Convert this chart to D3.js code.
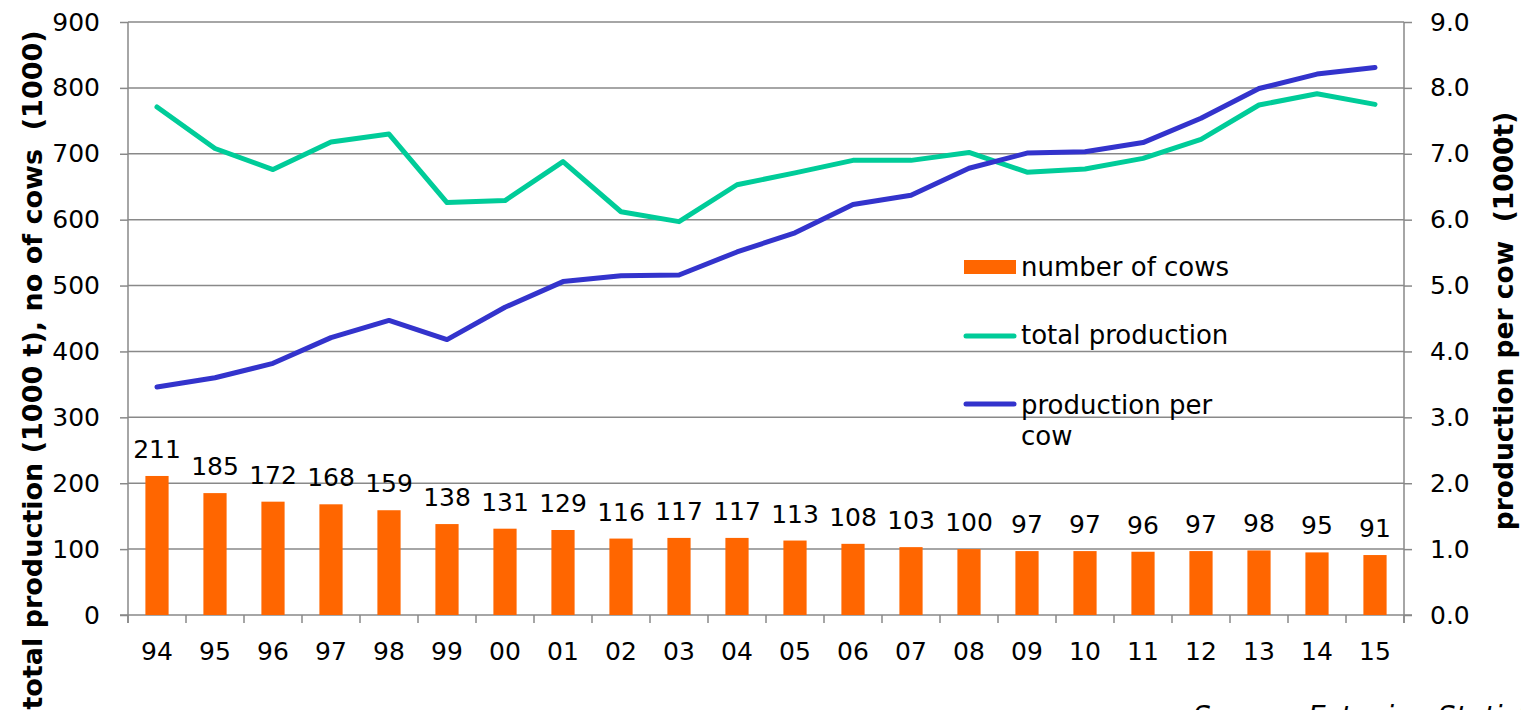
<!DOCTYPE html>
<html lang="en">
<head>
<meta charset="utf-8">
<title>Cows and milk production</title>
<style>
  body { margin: 0; background: #fff; }
  svg text { font-family: "DejaVu Sans", Verdana, sans-serif; fill: #000; }
  .axis path { display: none; }
  .axis line { stroke: #898989; stroke-width: 1.5; }
  .axis text { font-size: 25px; }
  .grid line { stroke: #898989; stroke-width: 1.5; }
</style>
<script src="https://cdn.jsdelivr.net/npm/d3@7"></script>
</head>
<body>
<div id="chart"></div>
<script>
// data
var years = ["94","95","96","97","98","99","00","01","02","03","04","05","06","07","08","09","10","11","12","13","14","15"];
var cows = [211,185,172,168,159,138,131,129,116,117,117,113,108,103,100,97,97,96,97,98,95,91];
var totalProduction = [771,708,676,718,730,626,629,688,612,597,653,671,690,690,702,672,677,693,722,774,791,775];
var perCow = [3.46,3.60,3.82,4.21,4.47,4.18,4.67,5.06,5.15,5.16,5.51,5.80,6.23,6.37,6.78,7.01,7.03,7.17,7.54,7.99,8.21,8.31];
var leftTicks = [0,100,200,300,400,500,600,700,800,900];
var rightTicks = [0,1,2,3,4,5,6,7,8,9];

var w = 1521, h = 710;
var pLeft = 128, pRight = 1404, pTop = 22, pBottom = 615;

var svg = d3.select('#chart').append('svg')
  .attr('width', w).attr('height', h);

var x = d3.scaleBand().domain(years).range([pLeft, pRight]).padding(0);
var yL = d3.scaleLinear().domain([0, 900]).range([pBottom, pTop]);
var yR = d3.scaleLinear().domain([0, 9]).range([pBottom, pTop]);
var cx = function(d) { return x(d) + x.bandwidth() / 2; };

// gridlines
svg.append('g').attr('class', 'grid')
  .selectAll('line').data(leftTicks.slice(1)).enter().append('line')
  .attr('x1', pLeft).attr('x2', pRight)
  .attr('y1', function(d) { return yL(d); }).attr('y2', function(d) { return yL(d); });

// left axis
svg.append('g').attr('class', 'axis')
  .attr('transform', 'translate(' + pLeft + ',0)')
  .call(d3.axisLeft(yL).tickValues(leftTicks).tickSize(8).tickPadding(20));
svg.append('line').attr('x1', pLeft).attr('x2', pLeft).attr('y1', pTop).attr('y2', pBottom + 8)
  .attr('stroke', '#898989').attr('stroke-width', 1.5);

// right axis
svg.append('g').attr('class', 'axis')
  .attr('transform', 'translate(' + pRight + ',0)')
  .call(d3.axisRight(yR).tickValues(rightTicks).tickSize(8).tickPadding(18).tickFormat(d3.format('.1f')));
svg.append('line').attr('x1', pRight).attr('x2', pRight).attr('y1', pTop).attr('y2', pBottom + 8)
  .attr('stroke', '#898989').attr('stroke-width', 1.5);

// bottom axis: labels at centres, ticks at band edges
svg.append('g').attr('class', 'axis')
  .attr('transform', 'translate(0,' + pBottom + ')')
  .call(d3.axisBottom(x).tickSize(0).tickPadding(27));
var edges = years.map(function(d) { return x(d); }).concat([pRight]);
svg.append('g').selectAll('line').data(edges).enter().append('line')
  .attr('x1', function(d) { return d; }).attr('x2', function(d) { return d; })
  .attr('y1', pBottom).attr('y2', pBottom + 8)
  .attr('stroke', '#898989').attr('stroke-width', 1.5);
svg.append('line').attr('x1', pLeft - 8).attr('x2', pRight + 8).attr('y1', pBottom).attr('y2', pBottom)
  .attr('stroke', '#898989').attr('stroke-width', 1.5);

// bars
var barW = x.bandwidth() * 0.4;
svg.append('g').selectAll('rect').data(cows).enter().append('rect')
  .attr('x', function(d, i) { return cx(years[i]) - barW / 2; })
  .attr('y', function(d) { return yL(d); })
  .attr('width', barW)
  .attr('height', function(d) { return pBottom - yL(d); })
  .attr('fill', '#ff6600');

svg.append('g').selectAll('text').data(cows).enter().append('text')
  .attr('x', function(d, i) { return cx(years[i]); })
  .attr('y', function(d) { return yL(d) - 18; })
  .attr('text-anchor', 'middle')
  .style('font-size', '25px')
  .text(function(d) { return d; });

// lines
var lineL = d3.line().x(function(d, i) { return cx(years[i]); }).y(function(d) { return yL(d); });
var lineR = d3.line().x(function(d, i) { return cx(years[i]); }).y(function(d) { return yR(d); });

svg.append('path').datum(totalProduction).attr('d', lineL)
  .attr('fill', 'none').attr('stroke', '#00cc99').attr('stroke-width', 5)
  .attr('stroke-linejoin', 'round').attr('stroke-linecap', 'round');
svg.append('path').datum(perCow).attr('d', lineR)
  .attr('fill', 'none').attr('stroke', '#3333cc').attr('stroke-width', 5)
  .attr('stroke-linejoin', 'round').attr('stroke-linecap', 'round');

// legend
var lg = svg.append('g').style('font-size', '26px');
lg.append('rect').attr('x', 964).attr('y', 260).attr('width', 52).attr('height', 14).attr('fill', '#ff6600');
lg.append('text').attr('x', 1021).attr('y', 276).text('number of cows');
lg.append('line').attr('x1', 966).attr('x2', 1014).attr('y1', 336).attr('y2', 336)
  .attr('stroke', '#00cc99').attr('stroke-width', 5).attr('stroke-linecap', 'round');
lg.append('text').attr('x', 1021).attr('y', 344).text('total production');
lg.append('line').attr('x1', 966).attr('x2', 1014).attr('y1', 404).attr('y2', 404)
  .attr('stroke', '#3333cc').attr('stroke-width', 5).attr('stroke-linecap', 'round');
lg.append('text').attr('x', 1021).attr('y', 414).text('production per');
lg.append('text').attr('x', 1021).attr('y', 445).text('cow');

// axis titles
svg.append('text')
  .attr('transform', 'translate(42,370) rotate(-90)')
  .attr('text-anchor', 'middle')
  .style('font-size', '27px').style('font-weight', 'bold').style('white-space', 'pre')
  .text('total production (1000 t), no of cows  (1000)');
svg.append('text')
  .attr('transform', 'translate(1513,321) rotate(-90)')
  .attr('text-anchor', 'middle')
  .style('font-size', '26.5px').style('font-weight', 'bold').style('white-space', 'pre')
  .text('production per cow  (1000t)');

// source note, cut by the bottom edge
svg.append('text')
  .attr('x', 1193).attr('y', 726)
  .style('font-size', '28px').style('font-style', 'italic')
  .text('Source: Estonian Statistics');
</script>
</body>
</html>
